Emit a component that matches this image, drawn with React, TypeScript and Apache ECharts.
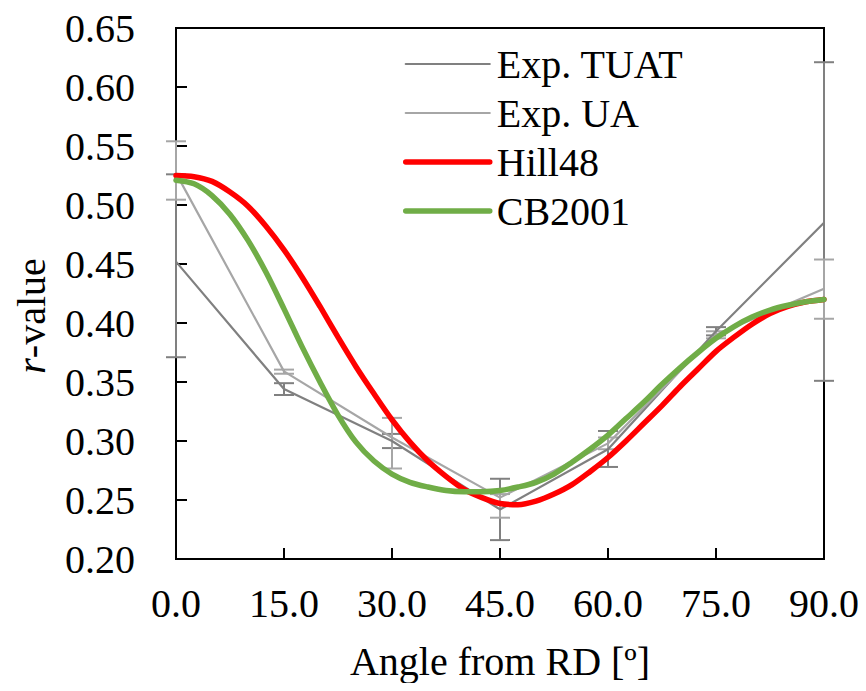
import React, { useEffect, useRef } from "react";
import * as echarts from "echarts";

const angles = [0, 15, 30, 45, 60, 75, 90];
const tuatValues = [0.452, 0.344, 0.3, 0.242, 0.293, 0.393, 0.485];
const tuatLow = [0.371, 0.339, 0.294, 0.216, 0.278, 0.3895, 0.351];
const tuatHigh = [0.526, 0.349, 0.306, 0.268, 0.3085, 0.3965, 0.621];
const uaValues = [0.527, 0.359, 0.303, 0.252, 0.298, 0.39, 0.429];
const uaLow = [0.5045, 0.357, 0.2767, 0.235, 0.293, 0.387, 0.4036];
const uaHigh = [0.554, 0.3605, 0.3196, 0.255, 0.303, 0.393, 0.4538];

const modelAngles = [
  0, 2.5, 5, 7.5, 10, 12.5, 15, 17.5, 20, 22.5, 25, 27.5, 30, 32.5, 35, 37.5, 40, 42.5, 45,
  47.5, 50, 52.5, 55, 57.5, 60, 62.5, 65, 67.5, 70, 72.5, 75, 77.5, 80, 82.5, 85, 87.5, 90,
];
const hill48Values = [
  0.525, 0.524, 0.52, 0.511, 0.499, 0.482, 0.462, 0.439, 0.414, 0.388, 0.363, 0.34, 0.318, 0.299,
  0.283, 0.27, 0.259, 0.252, 0.247, 0.246, 0.249, 0.255, 0.263, 0.274, 0.286, 0.3, 0.315, 0.33,
  0.346, 0.361, 0.376, 0.388, 0.399, 0.408, 0.414, 0.418, 0.42,
];
const cb2001Values = [
  0.521, 0.518, 0.508, 0.492, 0.47, 0.443, 0.412, 0.38, 0.35, 0.322, 0.299, 0.283, 0.272, 0.265,
  0.261, 0.258, 0.257, 0.257, 0.258, 0.261, 0.265, 0.272, 0.282, 0.293, 0.305, 0.319, 0.333,
  0.348, 0.362, 0.375, 0.387, 0.397, 0.405, 0.411, 0.415, 0.418, 0.42,
];

const seriesNames = ["Exp. TUAT", "Exp. UA", "Hill48", "CB2001"];
const yTicks = { min: 0.2, max: 0.65, interval: 0.05 };
const xTicks = { min: 0, max: 90, interval: 15 };

const FONT = "Liberation Serif";
const C_TUAT = "#808080";
const C_UA = "#A6A6A6";
const C_HILL = "#FF0000";
const C_CB = "#70AD47";
const THIN = 2.2;
const THICK = 5.5;

function errorSeries(low: number[], high: number[], color: string) {
  const data = angles.map((a, i) => [a, low[i], high[i]]);
  return {
    type: "custom",
    data,
    encode: { x: 0, y: [1, 2] },
    silent: true,
    z: 1,
    renderItem: (params: any, api: any) => {
      const x = api.value(0);
      const lo = api.coord([x, api.value(1)]);
      const hi = api.coord([x, api.value(2)]);
      const w = 10;
      const style = { stroke: color, lineWidth: 2 };
      return {
        type: "group",
        children: [
          { type: "line", shape: { x1: lo[0], y1: lo[1], x2: hi[0], y2: hi[1] }, style },
          { type: "line", shape: { x1: lo[0] - w, y1: lo[1], x2: lo[0] + w, y2: lo[1] }, style },
          { type: "line", shape: { x1: hi[0] - w, y1: hi[1], x2: hi[0] + w, y2: hi[1] }, style },
        ],
      };
    },
  };
}

export default function App() {
  const ref = useRef<HTMLDivElement>(null);
  useEffect(() => {
    if (!ref.current) return;
    const chart = echarts.init(ref.current, null, { renderer: "svg" });
    const legendColors = [C_TUAT, C_UA, C_HILL, C_CB];
    const legendWidths = [THIN, THIN, THICK, THICK];
    chart.setOption({
      animation: false,
      textStyle: { fontFamily: FONT, color: "#000" },
      grid: {
        left: 176,
        top: 28,
        right: 42,
        bottom: 132,
        show: true,
        borderColor: "#000",
        borderWidth: 2,
        backgroundColor: "transparent",
      },
      legend: {
        data: seriesNames.map((n, i) => ({
          name: n,
          itemStyle: { opacity: 0 },
          lineStyle: { color: legendColors[i], width: legendWidths[i], cap: "round" },
        })),
        orient: "vertical",
        left: 403,
        top: 44,
        padding: 0,
        itemWidth: 84,
        itemHeight: 14,
        itemGap: 9,
        itemStyle: { opacity: 0 },
        textStyle: { fontFamily: FONT, fontSize: 40, color: "#000", lineHeight: 40, padding: [0, 0, 0, 2] },
      },
      xAxis: {
        type: "value",
        min: xTicks.min,
        max: xTicks.max,
        interval: xTicks.interval,
        name: "Angle from RD [º]",
        nameLocation: "middle",
        nameGap: 82,
        nameTextStyle: { fontFamily: FONT, fontSize: 40, color: "#000" },
        axisLine: { lineStyle: { color: "#000", width: 2 } },
        axisTick: { inside: true, length: 11, lineStyle: { color: "#000", width: 2 } },
        axisLabel: {
          fontFamily: FONT,
          fontSize: 40,
          color: "#000",
          margin: 24,
          formatter: (v: number) => v.toFixed(1),
        },
        splitLine: { show: false },
      },
      yAxis: {
        type: "value",
        min: yTicks.min,
        max: yTicks.max,
        interval: yTicks.interval,
        axisLine: { show: true, lineStyle: { color: "#000", width: 2 } },
        axisTick: { show: true, inside: true, length: 11, lineStyle: { color: "#000", width: 2 } },
        axisLabel: {
          fontFamily: FONT,
          fontSize: 40,
          color: "#000",
          margin: 41,
          formatter: (v: number) => v.toFixed(2),
        },
        splitLine: { show: false },
      },
      graphic: [
        {
          type: "text",
          x: 31,
          y: 316,
          rotation: Math.PI / 2,
          style: {
            text: "{i|r}{n|-value}",
            align: "center",
            verticalAlign: "middle",
            fontFamily: FONT,
            fontSize: 40,
            fill: "#000",
            rich: {
              i: { fontFamily: FONT, fontSize: 40, fontStyle: "italic", fill: "#000" },
              n: { fontFamily: FONT, fontSize: 40, fill: "#000" },
            },
          },
        },
      ],
      series: [
        errorSeries(tuatLow, tuatHigh, C_TUAT),
        errorSeries(uaLow, uaHigh, C_UA),
        {
          name: seriesNames[0],
          type: "line",
          data: angles.map((a, i) => [a, tuatValues[i]]),
          symbol: "none",
          lineStyle: { color: C_TUAT, width: THIN },
          itemStyle: { color: C_TUAT },
          z: 2,
        },
        {
          name: seriesNames[1],
          type: "line",
          data: angles.map((a, i) => [a, uaValues[i]]),
          symbol: "none",
          lineStyle: { color: C_UA, width: THIN },
          itemStyle: { color: C_UA },
          z: 2,
        },
        {
          name: seriesNames[2],
          type: "line",
          data: modelAngles.map((a, i) => [a, hill48Values[i]]),
          symbol: "none",
          smooth: 0.3,
          lineStyle: { color: C_HILL, width: THICK, cap: "round" },
          itemStyle: { color: C_HILL },
          z: 3,
        },
        {
          name: seriesNames[3],
          type: "line",
          data: modelAngles.map((a, i) => [a, cb2001Values[i]]),
          symbol: "none",
          smooth: 0.3,
          lineStyle: { color: C_CB, width: THICK, cap: "round" },
          itemStyle: { color: C_CB },
          z: 4,
        },
      ],
    });
    return () => chart.dispose();
  }, []);
  return <div ref={ref} style={{ width: 866, height: 691, margin: -8 }} />;
}
